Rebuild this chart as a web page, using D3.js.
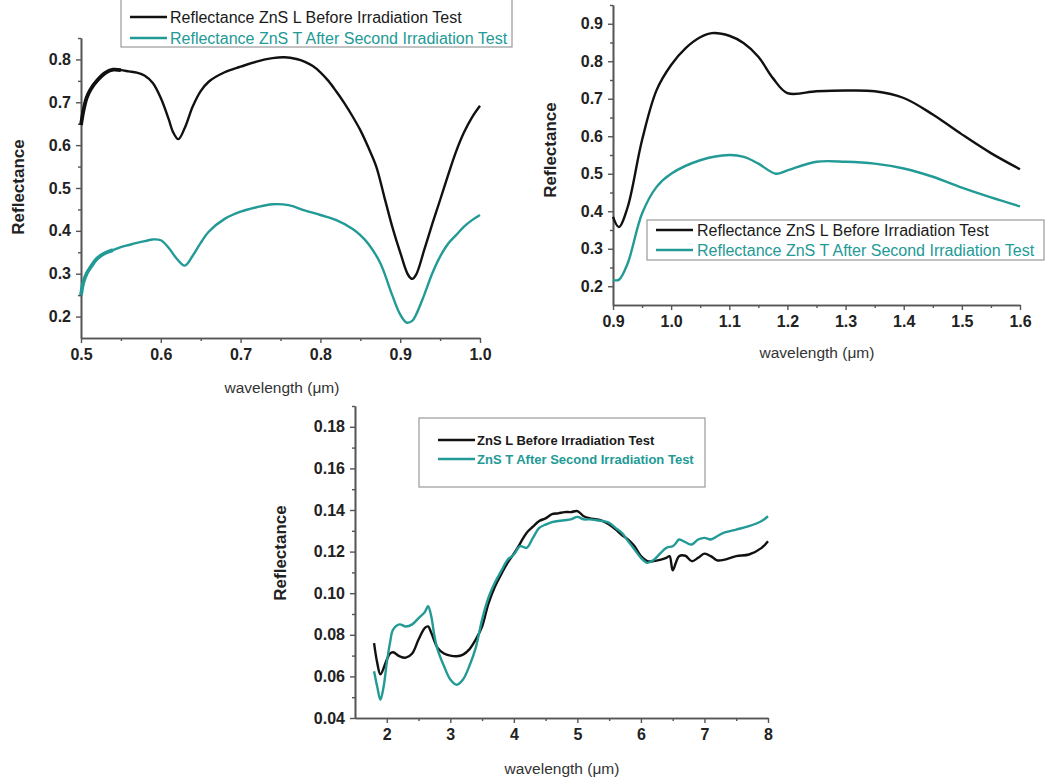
<!DOCTYPE html>
<html>
<head>
<meta charset="utf-8">
<script src="https://cdn.jsdelivr.net/npm/d3@7"></script>
<style>
  html, body { margin: 0; padding: 0; background: #fff; }
  svg { display: block; font-family: "Liberation Sans", Arial, sans-serif; }
</style>
</head>
<body>
<svg id="chart" width="1045" height="780"></svg>
<script>
// ---- Panel A: 0.5–1.0 µm ----
const visWavelength = [0.5, 0.503, 0.507, 0.512, 0.52, 0.53, 0.54, 0.55, 0.56, 0.57, 0.58, 0.59, 0.6, 0.61, 0.615, 0.622, 0.63, 0.64, 0.65, 0.66, 0.68, 0.7, 0.72, 0.74, 0.755, 0.77, 0.78, 0.79, 0.8, 0.81, 0.82, 0.83, 0.84, 0.85, 0.86, 0.87, 0.88, 0.89, 0.9, 0.91, 0.915, 0.92, 0.93, 0.94, 0.95, 0.96, 0.97, 0.98, 0.99, 1.0];
const visBefore = [0.647, 0.68, 0.71, 0.73, 0.75, 0.768, 0.776, 0.775, 0.772, 0.769, 0.762, 0.745, 0.71, 0.66, 0.632, 0.614, 0.64, 0.69, 0.726, 0.748, 0.77, 0.783, 0.795, 0.803, 0.805, 0.801, 0.795, 0.785, 0.77, 0.75, 0.725, 0.698, 0.668, 0.635, 0.595, 0.55, 0.48, 0.41, 0.35, 0.297, 0.288, 0.298, 0.355, 0.415, 0.472, 0.53, 0.585, 0.63, 0.665, 0.692];
const visWavelengthT = [0.5, 0.503, 0.507, 0.512, 0.52, 0.53, 0.54, 0.55, 0.56, 0.57, 0.58, 0.59, 0.6, 0.61, 0.62, 0.63, 0.64, 0.65, 0.66, 0.68, 0.7, 0.72, 0.74, 0.76, 0.78, 0.8, 0.82, 0.84, 0.85, 0.86, 0.875, 0.89, 0.9, 0.908, 0.915, 0.92, 0.93, 0.94, 0.95, 0.96, 0.97, 0.98, 0.99, 1.0];
const visAfter = [0.25, 0.28, 0.3, 0.315, 0.335, 0.348, 0.355, 0.362, 0.367, 0.372, 0.376, 0.38, 0.378, 0.36, 0.335, 0.319, 0.342, 0.372, 0.398, 0.428, 0.445, 0.455, 0.462, 0.46, 0.448, 0.437, 0.425, 0.405, 0.39, 0.37, 0.325, 0.25, 0.205, 0.186, 0.19, 0.205, 0.25, 0.3, 0.34, 0.37, 0.39, 0.41, 0.425, 0.437];

// ---- Panel B: 0.9–1.6 µm ----
const nirWavelength = [0.9, 0.91, 0.925, 0.95, 0.975, 1.0, 1.025, 1.05, 1.07, 1.1, 1.125, 1.15, 1.175, 1.2, 1.25, 1.3, 1.35, 1.4, 1.45, 1.5, 1.55, 1.6];
const nirBefore = [0.385, 0.358, 0.41, 0.59, 0.723, 0.79, 0.835, 0.864, 0.875, 0.868, 0.848, 0.812, 0.755, 0.715, 0.72, 0.722, 0.72, 0.702, 0.658, 0.605, 0.555, 0.512];
const nirWavelengthT = [0.9, 0.91, 0.925, 0.95, 0.975, 1.0, 1.05, 1.1, 1.125, 1.15, 1.18, 1.2, 1.25, 1.3, 1.35, 1.4, 1.45, 1.5, 1.55, 1.6];
const nirAfter = [0.217, 0.217, 0.26, 0.394, 0.465, 0.5, 0.536, 0.55, 0.545, 0.527, 0.5, 0.509, 0.532, 0.532, 0.527, 0.514, 0.492, 0.463, 0.437, 0.413];

// ---- Panel C: 1.8–8 µm ----
const irWavelength = [1.8, 1.85, 1.9, 2.0, 2.05, 2.1, 2.2, 2.3, 2.4, 2.5, 2.6, 2.65, 2.7, 2.8, 2.9, 3.0, 3.1, 3.2, 3.3, 3.4, 3.5, 3.6, 3.7, 3.8, 3.9, 4.0, 4.1, 4.2, 4.3, 4.4, 4.5, 4.6, 4.7, 4.8, 4.9, 5.0, 5.1, 5.2, 5.3, 5.4, 5.5, 5.6, 5.7, 5.8, 5.9, 6.0, 6.1, 6.2, 6.3, 6.4, 6.45, 6.5, 6.55, 6.6, 6.7, 6.8, 6.9, 7.0, 7.1, 7.2, 7.3, 7.5, 7.7, 7.9, 8.0];
const irBefore = [0.076, 0.0665, 0.061, 0.068, 0.071, 0.0716, 0.0697, 0.069, 0.071, 0.0777, 0.0833, 0.084, 0.081, 0.0737, 0.071, 0.070, 0.0697, 0.0705, 0.073, 0.0777, 0.084, 0.095, 0.103, 0.109, 0.1146, 0.119, 0.124, 0.129, 0.132, 0.1347, 0.136, 0.138, 0.1384, 0.139, 0.139, 0.1395, 0.137, 0.136, 0.1355, 0.1347, 0.133, 0.1307, 0.128, 0.1258, 0.1226, 0.1178, 0.1154, 0.1154, 0.116, 0.117, 0.1178, 0.111, 0.1146, 0.1178, 0.118, 0.1154, 0.117, 0.119, 0.1178, 0.1158, 0.116, 0.1178, 0.1186, 0.1218, 0.125];
const irWavelengthT = [1.8, 1.85, 1.9, 1.95, 2.0, 2.05, 2.1, 2.2, 2.3, 2.4, 2.5, 2.6, 2.65, 2.7, 2.75, 2.8, 2.9, 3.0, 3.1, 3.2, 3.3, 3.4, 3.5, 3.6, 3.7, 3.8, 3.9, 4.0, 4.1, 4.2, 4.3, 4.4, 4.5, 4.6, 4.7, 4.8, 4.9, 5.0, 5.1, 5.2, 5.3, 5.4, 5.5, 5.6, 5.7, 5.8, 5.9, 6.0, 6.1, 6.2, 6.3, 6.4, 6.5, 6.55, 6.6, 6.7, 6.8, 6.9, 7.0, 7.1, 7.2, 7.3, 7.5, 7.7, 7.9, 8.0];
const irAfter = [0.0625, 0.055, 0.0488, 0.055, 0.0665, 0.076, 0.0825, 0.085, 0.084, 0.085, 0.088, 0.091, 0.0937, 0.0889, 0.0795, 0.0729, 0.065, 0.0585, 0.056, 0.0585, 0.065, 0.0737, 0.0873, 0.0978, 0.105, 0.1106, 0.116, 0.1186, 0.1226, 0.1218, 0.1266, 0.1314, 0.133, 0.1342, 0.1347, 0.1351, 0.1355, 0.1367, 0.1355, 0.1355, 0.1351, 0.1347, 0.1338, 0.1314, 0.129, 0.125, 0.121, 0.117, 0.1146, 0.116, 0.119, 0.1218, 0.1226, 0.124, 0.1258, 0.1245, 0.1234, 0.1258, 0.1266, 0.1258, 0.1274, 0.129, 0.1306, 0.1322, 0.1347, 0.137];

// Legend labels
const legendLong = ["Reflectance ZnS L Before Irradiation Test", "Reflectance ZnS T After Second Irradiation Test"];
const legendShort = ["ZnS L Before Irradiation Test", "ZnS T After Second Irradiation Test"];

const COLOR_BEFORE = "#111111";
const COLOR_AFTER = "#229a96";
const AXIS_COLOR = "#555555";

const svg = d3.select("#chart");

function drawPanel(cfg) {
  const g = svg.append("g");
  const x = d3.scaleLinear().domain(cfg.xDomain).range([cfg.left, cfg.right]);
  const y = d3.scaleLinear().domain(cfg.yDomain).range([cfg.bottom, cfg.top]);

  // minor ticks
  const xMinor = d3.axisBottom(x).tickValues(cfg.xMinor).tickSize(3).tickFormat("").tickSizeOuter(0);
  const yMinor = d3.axisLeft(y).tickValues(cfg.yMinor).tickSize(3).tickFormat("").tickSizeOuter(0);
  g.append("g").attr("transform", `translate(0,${cfg.bottom})`).call(xMinor).call(styleAxis);
  g.append("g").attr("transform", `translate(${cfg.left},0)`).call(yMinor).call(styleAxis);

  // major ticks with labels
  const xAxis = d3.axisBottom(x).tickValues(cfg.xTicks).tickSize(5).tickSizeOuter(0)
    .tickPadding(6).tickFormat(d3.format(cfg.xFormat));
  const yAxis = d3.axisLeft(y).tickValues(cfg.yTicks).tickSize(5).tickSizeOuter(0)
    .tickPadding(5).tickFormat(d3.format(cfg.yFormat));
  g.append("g").attr("transform", `translate(0,${cfg.bottom})`).call(xAxis).call(styleAxis).call(styleLabels);
  g.append("g").attr("transform", `translate(${cfg.left},0)`).call(yAxis).call(styleAxis).call(styleLabels);

  // curves
  const line = d3.line().x(d => x(d[0])).y(d => y(d[1])).curve(d3.curveCatmullRom.alpha(0.5));
  cfg.series.forEach(s => {
    const pts = s.x.map((v, i) => [v, s.y[i]]);
    if (s.noisyUntil) {
      // early part of the scan is noisy: drawn as a wider band
      g.append("path").datum(pts.filter(p => p[0] <= s.noisyUntil))
        .attr("d", line).attr("fill", "none").attr("stroke", s.color)
        .attr("stroke-width", 3.8).attr("stroke-linejoin", "round").attr("stroke-linecap", "butt");
    }
    g.append("path").datum(pts).attr("d", line).attr("fill", "none")
      .attr("stroke", s.color).attr("stroke-width", cfg.lineWidth).attr("stroke-linejoin", "round");
  });

  // axis titles
  g.append("text").attr("transform", `translate(${cfg.yTitle[0]},${cfg.yTitle[1]}) rotate(-90)`)
    .attr("text-anchor", "middle").attr("dominant-baseline", "central")
    .attr("font-size", 17).attr("font-weight", "bold").attr("fill", "#222").text("Reflectance");
  g.append("text").attr("x", cfg.xTitle[0]).attr("y", cfg.xTitle[1])
    .attr("text-anchor", "middle").attr("dominant-baseline", "central")
    .attr("font-size", 15.5).attr("fill", "#333").text("wavelength (μm)");

  // legend
  const L = cfg.legend;
  g.append("rect").attr("x", L.x).attr("y", L.y).attr("width", L.w).attr("height", L.h)
    .attr("fill", "#fff").attr("stroke", "#9a9a9a").attr("stroke-width", 1.2);
  cfg.series.forEach((s, i) => {
    const ry = L.rows[i];
    g.append("line").attr("x1", L.lineX[0]).attr("x2", L.lineX[1]).attr("y1", ry).attr("y2", ry)
      .attr("stroke", s.color).attr("stroke-width", 2.6);
    g.append("text").attr("x", L.textX).attr("y", ry).attr("dominant-baseline", "central")
      .attr("font-size", L.fontSize).attr("font-weight", L.bold ? "bold" : "normal")
      .attr("fill", s.color === COLOR_BEFORE ? "#1a1a1a" : COLOR_AFTER).text(L.labels[i]);
  });
}

function styleAxis(sel) {
  sel.select(".domain").attr("stroke", AXIS_COLOR).attr("stroke-width", 1.6);
  sel.selectAll(".tick line").attr("stroke", AXIS_COLOR).attr("stroke-width", 1.4);
}
function styleLabels(sel) {
  sel.selectAll(".tick text").attr("font-size", 16).attr("font-weight", "bold")
    .attr("fill", "#222").attr("font-family", "Liberation Sans, Arial, sans-serif");
}

const range = (a, b, s) => d3.range(Math.round((b - a) / s) + 1).map(i => +(a + i * s).toFixed(4));

drawPanel({
  left: 81, right: 480, top: 38, bottom: 338,
  xDomain: [0.5, 1.0], yDomain: [0.15, 0.85],
  xTicks: range(0.5, 1.0, 0.1), xMinor: range(0.55, 0.95, 0.1),
  yTicks: range(0.2, 0.8, 0.1), yMinor: range(0.25, 0.85, 0.1),
  xFormat: ".1f", yFormat: ".1f", lineWidth: 2.4,
  yTitle: [18, 187], xTitle: [282, 387],
  series: [
    { x: visWavelength, y: visBefore, color: COLOR_BEFORE, noisyUntil: 0.55 },
    { x: visWavelengthT, y: visAfter, color: COLOR_AFTER, noisyUntil: 0.54 }
  ],
  legend: { x: 121, y: -2, w: 391, h: 49, rows: [17, 38], lineX: [130, 167], textX: 170,
            fontSize: 16, bold: false, labels: legendLong }
});

drawPanel({
  left: 613, right: 1020, top: 5, bottom: 305,
  xDomain: [0.9, 1.6], yDomain: [0.15, 0.95],
  xTicks: range(0.9, 1.6, 0.1), xMinor: range(0.95, 1.55, 0.1),
  yTicks: range(0.2, 0.9, 0.1), yMinor: range(0.25, 0.95, 0.1),
  xFormat: ".1f", yFormat: ".1f", lineWidth: 2.4,
  yTitle: [550, 150], xTitle: [817, 352],
  series: [
    { x: nirWavelength, y: nirBefore, color: COLOR_BEFORE },
    { x: nirWavelengthT, y: nirAfter, color: COLOR_AFTER }
  ],
  legend: { x: 647, y: 220, w: 397, h: 40, rows: [230, 250], lineX: [656, 693], textX: 697,
            fontSize: 16, bold: false, labels: legendLong }
});

drawPanel({
  left: 355, right: 768, top: 406, bottom: 718,
  xDomain: [1.5, 8], yDomain: [0.04, 0.19],
  xTicks: range(2, 8, 1), xMinor: range(2.5, 7.5, 1),
  yTicks: range(0.04, 0.18, 0.02), yMinor: range(0.05, 0.19, 0.02),
  xFormat: "d", yFormat: ".2f", lineWidth: 2.4,
  yTitle: [280, 553], xTitle: [562, 768],
  series: [
    { x: irWavelength, y: irBefore, color: COLOR_BEFORE },
    { x: irWavelengthT, y: irAfter, color: COLOR_AFTER }
  ],
  legend: { x: 419, y: 418, w: 286, h: 69, rows: [440, 459], lineX: [438, 475], textX: 477,
            fontSize: 13, bold: true, labels: legendShort }
});
</script>
</body>
</html>
